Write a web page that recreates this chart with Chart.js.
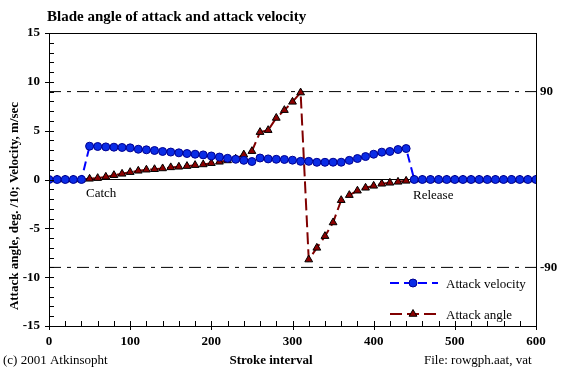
<!DOCTYPE html>
<html>
<head>
<meta charset="utf-8">
<script src="https://cdn.jsdelivr.net/npm/chart.js@4/dist/chart.umd.min.js"></script>
<style>
  html, body { margin: 0; padding: 0; background: #fff; }
  #wrap { width: 573px; height: 372px; }
</style>
</head>
<body>
<div id="wrap"><canvas id="chart_blade" width="573" height="372"></canvas></div>
<script>
// stroke interval positions
const strokeX = [0, 10, 20, 30, 40, 50, 60, 70, 80, 90,
  100, 110, 120, 130, 140, 150, 160, 170, 180, 190,
  200, 210, 220, 230, 240, 250, 260, 270, 280, 290,
  300, 310, 320, 330, 340, 350, 360, 370, 380, 390,
  400, 410, 420, 430, 440, 450, 460, 470, 480, 490,
  500, 510, 520, 530, 540, 550, 560, 570, 580, 590, 600]

// m/sec
const attackVelocity = [0, 0, 0, 0, 0, 3.41, 3.38, 3.34, 3.31, 3.28,
  3.24, 3.10, 3.04, 2.97, 2.87, 2.81, 2.73, 2.66, 2.59, 2.52,
  2.41, 2.30, 2.17, 2.07, 1.96, 1.84, 2.20, 2.11, 2.07, 2.05,
  1.98, 1.86, 1.86, 1.76, 1.76, 1.77, 1.77, 1.96, 2.15, 2.35,
  2.59, 2.80, 2.87, 3.07, 3.17, 0, 0, 0, 0, 0,
  0, 0, 0, 0, 0, 0, 0, 0, 0, 0, 0]

// deg / 10
const attackAngle = [0, 0, 0, 0, 0, 0.07, 0.14, 0.27, 0.44, 0.58,
  0.75, 0.89, 1.00, 1.05, 1.13, 1.24, 1.30, 1.37, 1.47, 1.54,
  1.67, 1.81, 1.95, 2.12, 2.55, 2.90, 4.85, 5.05, 6.30, 7.10,
  7.95, 8.90, -8.20, -7.00, -5.80, -4.40, -2.12, -1.60, -1.15, -0.85,
  -0.65, -0.44, -0.34, -0.24, -0.14, 0, 0, 0, 0, 0,
  0, 0, 0, 0, 0, 0, 0, 0, 0, 0, 0]

const refLevels = [9, -9]
const refLabels = ['90', '-90']
const xRange = [0, 600]
const yTicks = [-15, -10, -5, 0, 5, 10, 15]

const SERIF = '"Liberation Serif", "Times New Roman", serif'

function pts(ys) {
    return strokeX.map((x, i) => ({ x: x, y: ys[i] }))
}

const refDatasets = refLevels.map((lv) => ({
    label: 'ref' + lv,
    data: xRange.map((x) => ({ x: x, y: lv })),
    borderColor: '#000',
    borderWidth: 1,
    borderDash: [12, 6, 4, 6],
    pointRadius: 0,
    yAxisID: 'y'
}))

const extras = {
    id: 'extras',
    afterDraw(chart) {
        const ctx = chart.ctx
        const a = chart.chartArea
        const xs = chart.scales.x
        const ys = chart.scales.y
        ctx.save()
        ctx.strokeStyle = '#000'
        ctx.lineWidth = 1
        ctx.setLineDash([])
        ctx.strokeRect(Math.round(a.left) + 0.5, Math.round(a.top) + 0.5,
            Math.round(a.right - a.left), Math.round(a.bottom - a.top))

        // y ticks: major cross the axis, minor inside
        ctx.beginPath()
        for (let v = -15; v <= 15; v++) {
            const py = Math.round(ys.getPixelForValue(v)) + 0.5
            const major = v % 5 === 0
            ctx.moveTo(a.left - (major ? 4 : 0), py)
            ctx.lineTo(a.left + 5, py)
        }
        for (let v = 0; v <= 600; v += 20) {
            const px = Math.round(xs.getPixelForValue(v)) + 0.5
            const major = v % 100 === 0
            ctx.moveTo(px, a.bottom + (major ? 4 : 0))
            ctx.lineTo(px, a.bottom - 5)
        }
        ctx.stroke()

        ctx.fillStyle = '#000'
        ctx.textBaseline = 'alphabetic'
        ctx.textAlign = 'left'
        ctx.font = 'bold 15px ' + SERIF
        ctx.fillText('Blade angle of attack and attack velocity', 47, 21)
        ctx.font = 'bold 13px ' + SERIF
        ctx.textAlign = 'center'
        ctx.fillText('Stroke interval', 271, 364)

        ctx.save()
        ctx.translate(18, 206)
        ctx.rotate(-Math.PI / 2)
        ctx.fillText('Attack angle, deg. /10; Velocity, m/sec', 0, 0)
        ctx.restore()

        ctx.font = '13px ' + SERIF
        ctx.textAlign = 'left'
        ctx.fillText('(c) 2001 Atkinsopht', 3, 364)
        ctx.fillText('File: rowgph.aat, vat', 424, 364)
        ctx.fillText('Catch', 86, 197)
        ctx.fillText('Release', 413, 199)

        // legend inside the plot
        const rows = [[0, 283], [1, 314]]
        rows.forEach(([di, ly]) => {
            const ds = chart.data.datasets[di]
            ctx.strokeStyle = ds.borderColor
            ctx.lineWidth = ds.borderWidth
            ctx.setLineDash(ds.borderDash)
            ctx.beginPath()
            ctx.moveTo(390, ly)
            ctx.lineTo(438, ly)
            ctx.stroke()
            ctx.setLineDash([])
            ctx.fillStyle = ds.pointBackgroundColor
            ctx.strokeStyle = ds.pointBorderColor
            ctx.lineWidth = 1
            Chart.helpers.drawPoint(ctx, {
                pointStyle: ds.pointStyle, radius: ds.pointRadius, rotation: 0, borderWidth: 1
            }, 413, ly)
            ctx.fillStyle = '#000'
            ctx.font = '13px ' + SERIF
            ctx.fillText(ds.label, 446, ly + 5)
        })
        ctx.restore()
    }
}

const config = {
    type: 'line',
    data: {
        datasets: [{
            label: 'Attack velocity',
            data: pts(attackVelocity),
            borderColor: '#0000ff',
            borderWidth: 2,
            borderDash: [9, 5],
            pointStyle: 'circle',
            pointRadius: 4,
            pointBackgroundColor: '#0a2ce6',
            pointBorderColor: '#000090',
            pointBorderWidth: 1,
            yAxisID: 'y'
        }, {
            label: 'Attack angle',
            data: pts(attackAngle),
            borderColor: '#800000',
            borderWidth: 2,
            borderDash: [12, 5],
            pointStyle: 'triangle',
            pointRadius: 4.5,
            pointBackgroundColor: '#8b0000',
            pointBorderColor: '#000',
            pointBorderWidth: 1,
            yAxisID: 'y'
        }, ...refDatasets]
    },
    options: {
        responsive: false,
        animation: false,
        events: [],
        layout: { padding: { top: 33, left: 0, right: 0, bottom: 0 } },
        plugins: {
            legend: { display: false },
            title: { display: false },
            tooltip: { enabled: false }
        },
        scales: {
            x: {
                type: 'linear',
                min: 0,
                max: 600,
                afterFit: (s) => { s.height = 46 },
                ticks: {
                    stepSize: 100,
                    padding: 8,
                    color: '#000',
                    font: { family: SERIF, size: 13, weight: 'bold' }
                },
                grid: { display: false, drawTicks: false },
                border: { display: false }
            },
            y: {
                min: -15,
                max: 15,
                afterFit: (s) => { s.width = 49 },
                afterBuildTicks: (s) => { s.ticks = yTicks.map((v) => ({ value: v })) },
                ticks: {
                    padding: 9,
                    color: '#000',
                    font: { family: SERIF, size: 13, weight: 'bold' }
                },
                grid: {
                    drawTicks: false,
                    color: (c) => (c.tick && c.tick.value === 0 ? '#000' : 'rgba(0,0,0,0)'),
                    lineWidth: 1
                },
                border: { display: false }
            },
            y2: {
                position: 'right',
                min: -15,
                max: 15,
                afterFit: (s) => { s.width = 37 },
                afterBuildTicks: (s) => { s.ticks = refLevels.map((v) => ({ value: v })) },
                ticks: {
                    padding: 4,
                    color: '#000',
                    font: { family: SERIF, size: 13, weight: 'bold' },
                    callback: (v) => refLabels[refLevels.indexOf(v)]
                },
                grid: { display: false, drawTicks: false },
                border: { display: false }
            }
        }
    },
    plugins: [extras]
}

var ctx = document.getElementById('chart_blade').getContext('2d')
window.bladeChart = new Chart(ctx, config)
</script>
</body>
</html>
